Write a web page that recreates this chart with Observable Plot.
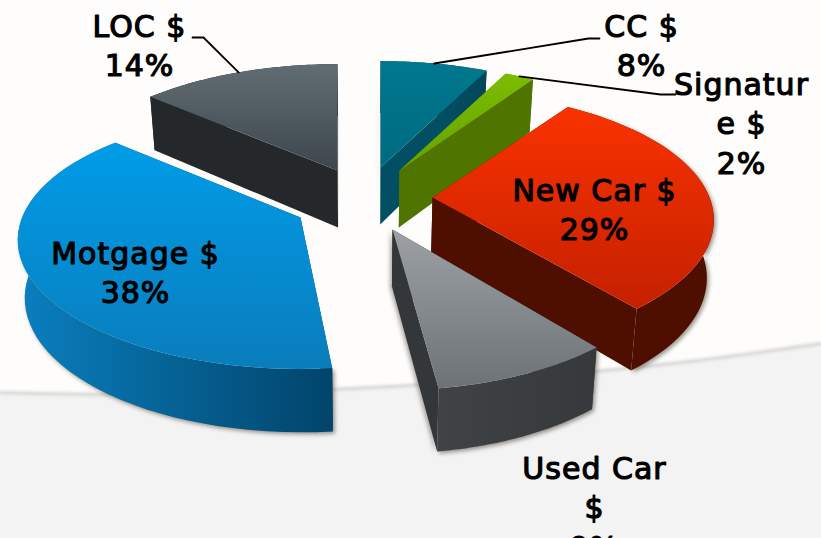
<!DOCTYPE html>
<html><head><meta charset="utf-8">
<script src="https://cdn.jsdelivr.net/npm/d3@7"></script>
<script src="https://cdn.jsdelivr.net/npm/@observablehq/plot@0.6"></script>
<style>html,body{margin:0;padding:0;background:#fefdfb;overflow:hidden}svg{display:block}</style>
</head><body><div id="c"></div>
<script>
// Data, clockwise from 12 o'clock
const names = ["CC $", "Signatur\ne $", "New Car $", "Used Car\n$", "Motgage $", "LOC $"];
const shares = [8, 2, 29, 9, 38, 14];
// Layout
const keys = ["cc", "sig", "newcar", "used", "mort", "loc"];
const apexX = [380, 399, 432, 392, 300, 337];
const apexY = [167, 170, 197, 229, 217, 170];
const startNudge = [0, -2.5, -2, 0, 1.8, 1.5];
const endNudge = [-2.5, -2.5, 0, -0.7, 2.4, 0];
const rScale = [1, 1, 1, 1, 1.005, 1];
const ryScale = [1, 1, 1, 1.06, 1, 1];
const labelX = [641, 741, 594, 594, 135, 139];
const labelY = [8, 66, 172, 450, 235, 8];
const drawOrder = [5, 0, 1, 2, 3, 4];
const startShadow = [true, false, false, false, false, false];
const endShadow = [false, false, false, true, false, true];
const wallShadow = [false, false, true, true, true, false];
const topStops = [["#00788f","#006a80"],["#7cbd00","#66a000"],["#fa3200","#c42000"],["#9da1a6","#6c7275"],["#009ce8","#0a7dbc"],["#626c73","#3c464c"]];
const wallStops = [["#03596e","#03465a"],["#4f7400","#4f7400"],["#4e0e00","#4e0e00"],["#3f4346","#35393b"],["#0a7fbf","#01446a"],["#24282b","#24282b"]];
const cutFill = ["#024e62","#4f7400","#4e0e00","#33373a","#01446a","#24282b"];
const groundX = [0, 120, 350, 520, 680, 821];
const groundY = [392, 394, 388, 377, 362, 343];
const R = 277, Ry = 125, K = 0.175, DEPTH = 57, VX = 365, BASE = 0.98;
const DEG = Math.PI / 180;
const SHADOW = "drop-shadow(-2px 1px 2px rgba(70,60,50,0.45))";
const WALL_SHADOW = "drop-shadow(2px 2px 2px rgba(70,60,50,0.55))";

const cum = d3.cumsum(shares).map(c => c / d3.sum(shares) * 2 * Math.PI);
const edges = cum.map((c, i) => c + endNudge[i] * DEG);
const starts = [0, ...cum.slice(0, -1)].map((c, i) => c + startNudge[i] * DEG);

function topPt(i, a, r = 1) {
  const X = Math.sin(a) * r, Y = Math.cos(a) * r, s = 1 / (1 + K * Y);
  return {x: apexX[i] + R * rScale[i] * X * s, y: apexY[i] - Ry * ryScale[i] * Y * s, Y};
}
function basePt(p) {
  return {x: VX + (p.x - VX) * BASE, y: p.y + DEPTH / (1 + 0.1 * p.Y)};
}
function arcPts(i) {
  const n = 48;
  return d3.range(n + 1).map(k => topPt(i, starts[i] + (edges[i] - starts[i]) * k / n));
}
function cutPts(i, a) {
  const c = topPt(i, 0, 0), o = topPt(i, a);
  return [c, o, basePt(o), basePt(c)];
}

function defs() {
  const g = d3.create("svg:defs");
  keys.forEach((k, i) => {
    const t = g.append("svg:linearGradient").attr("id", "top-" + k).attr("x1", 0).attr("y1", 0).attr("x2", 0).attr("y2", 1);
    topStops[i].forEach((c, j) => t.append("svg:stop").attr("offset", j).attr("stop-color", c));
    const w = g.append("svg:linearGradient").attr("id", "wall-" + k).attr("x1", 0).attr("y1", 0).attr("x2", 1).attr("y2", 0);
    wallStops[i].forEach((c, j) => w.append("svg:stop").attr("offset", j).attr("stop-color", c));
  });
  return g.node();
}

const sliceMarks = drawOrder.flatMap(i => {
  const a = arcPts(i);
  const wall = [...a, ...a.map(basePt).reverse()];
  const faceOpts = {x: "x", y: "y", stroke: "none"};
  return [
    Plot.line(cutPts(i, starts[i]), {...faceOpts, fill: cutFill[i], ...(startShadow[i] ? {imageFilter: SHADOW} : {})}),
    Plot.line(cutPts(i, edges[i]), {...faceOpts, fill: cutFill[i], ...(endShadow[i] ? {imageFilter: SHADOW} : {})}),
    Plot.line(wall, {...faceOpts, fill: `url(#wall-${keys[i]})`, ...(wallShadow[i] ? {imageFilter: WALL_SHADOW} : {})}),
    Plot.line([topPt(i, 0, 0), ...a], {...faceOpts, fill: `url(#top-${keys[i]})`})
  ];
});

const mid = i => topPt(i, (starts[i] + edges[i]) / 2);
const leaders = [
  [mid(5), {x: 203, y: 37}, {x: 192, y: 37}],
  [mid(0), {x: 588, y: 38}, {x: 599, y: 38}],
  [mid(1), {x: 660, y: 94}, {x: 675, y: 94}]
];

const labels = names.map((n, i) => ({text: `${n}\n${shares[i]}%`, x: labelX[i], y: labelY[i]}));
const ground = groundX.map((x, i) => ({x, y: groundY[i]}));

const chart = Plot.plot({
  width: 821, height: 538, margin: 0,
  style: {background: "#fefdfb"},
  x: {domain: [0, 821], range: [0, 821], axis: null},
  y: {domain: [0, 538], range: [0, 538], axis: null},
  marks: [
    defs,
    Plot.areaY(ground, {x: "x", y1: "y", y2: 538, fill: "#f3f3f3", curve: "monotone-x"}),
    Plot.line(ground, {x: "x", y: "y", stroke: "#d4d4d2", strokeWidth: 3, curve: "monotone-x", imageFilter: "blur(1.5px)"}),
    ...sliceMarks,
    ...leaders.map(l => Plot.line(l, {x: "x", y: "y", stroke: "#000", strokeWidth: 1.8})),
    Plot.text(labels, {
      x: "x", y: "y", text: "text", lineAnchor: "top", textAnchor: "middle", lineHeight: 1.32,
      fontFamily: "DejaVu Sans", fontWeight: "normal", fontSize: 30, fill: "#000", stroke: "#000", strokeWidth: 1.2,
      render(index, scales, values, dims, context, next) {
        const g = next(index, scales, values, dims, context);
        g.style.letterSpacing = "1px";
        return g;
      }
    })
  ]
});
document.getElementById("c").append(chart);
</script></body></html>
